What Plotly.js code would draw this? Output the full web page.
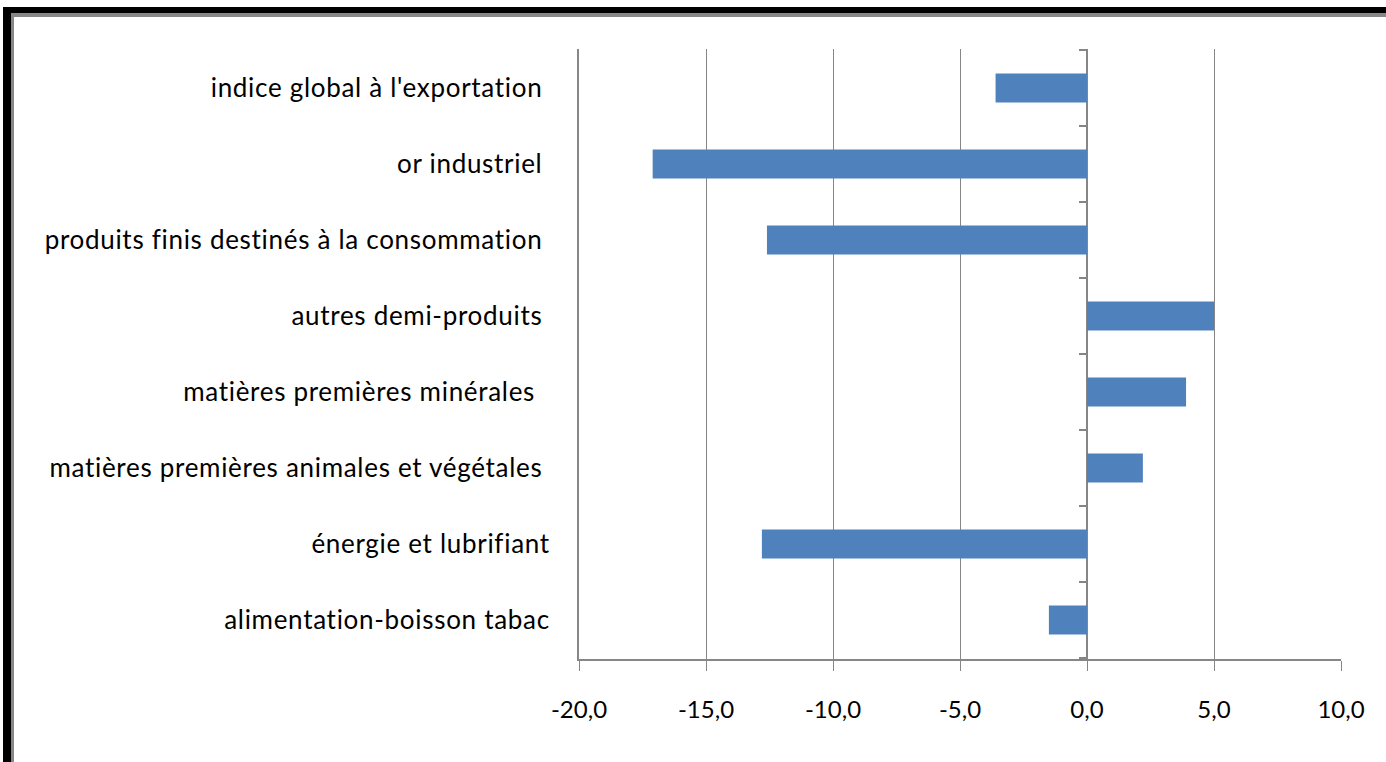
<!DOCTYPE html>
<html>
<head>
<meta charset="utf-8">
<script src="https://cdn.plot.ly/plotly-3.0.1.min.js"></script>
<style>
  html, body { margin: 0; padding: 0; background: #fff; }
  #wrap { position: relative; width: 1386px; height: 762px; overflow: hidden; }
  #chart { position: absolute; left: 0; top: 0; width: 1386px; height: 762px; }
  #frameBlack { position: absolute; left: 3px; top: 7px; right: -20px; bottom: -20px;
    border-left: 8px solid #000; border-top: 6px solid #000; pointer-events: none; }
  #frameGray { position: absolute; left: 11px; top: 13px; right: -20px; bottom: -20px;
    border-left: 3px solid #878787; border-top: 4px solid #878787; pointer-events: none; }
  #chart .ytick text { letter-spacing: 0.7px; }
</style>
</head>
<body>
<div id="wrap">
  <div id="chart"></div>
  <div id="frameBlack"></div>
  <div id="frameGray"></div>
</div>
<script>
// Categories, top to bottom as shown
var categories = [
  "indice global à l'exportation\u00a0",
  "or industriel\u00a0",
  "produits finis destinés à la consommation\u00a0",
  "autres demi-produits\u00a0",
  "matières premières minérales\u00a0\u00a0",
  "matières premières animales et végétales\u00a0",
  "énergie et lubrifiant",
  "alimentation-boisson tabac"
];
var values = [-3.6, -17.1, -12.6, 5.0, 3.9, 2.2, -12.8, -1.5];
var xTickValues = [-20, -15, -10, -5, 0, 5, 10];
var xTickLabels = ["-20,0", "-15,0", "-10,0", "-5,0", "0,0", "5,0", "10,0"];

var axisColor = "#868686";
var fontFamily = "Lato, 'Liberation Sans', sans-serif";

// category boundary ticks along the zero line
var shapes = [];
for (var i = 0; i <= categories.length; i++) {
  shapes.push({
    type: "line", xref: "x", yref: "y",
    xsizemode: "pixel", xanchor: 0, x0: -8, x1: 0,
    y0: i - 0.5, y1: i - 0.5,
    line: { color: axisColor, width: 2 }
  });
}

var trace = {
  type: "bar",
  orientation: "h",
  y: categories,
  x: values,
  marker: { color: "#4F81BD" },
  hoverinfo: "x+y"
};

var layout = {
  width: 1386, height: 762,
  margin: { l: 579, r: 45, t: 49, b: 103, pad: 0 },
  paper_bgcolor: "#fff", plot_bgcolor: "#fff",
  showlegend: false,
  bargap: 0.62,
  font: { family: fontFamily, size: 24, color: "#000" },
  xaxis: {
    range: [-20, 10],
    tickmode: "array",
    tickvals: xTickValues,
    ticktext: xTickLabels,
    showgrid: true, gridcolor: axisColor, gridwidth: 1,
    zeroline: true, zerolinecolor: axisColor, zerolinewidth: 2,
    showline: true, linecolor: axisColor, linewidth: 2,
    ticks: "outside", ticklen: 10, tickwidth: 1, tickcolor: axisColor,
    ticklabelstandoff: 18,
    tickfont: { family: fontFamily, size: 24, color: "#000" },
    fixedrange: true
  },
  yaxis: {
    type: "category",
    autorange: "reversed",
    showgrid: false,
    zeroline: false,
    showline: true, linecolor: axisColor, linewidth: 2,
    ticks: "",
    ticklabelstandoff: 22,
    tickfont: { family: fontFamily, size: 26, color: "#000" },
    fixedrange: true
  },
  shapes: shapes
};

Plotly.newPlot("chart", [trace], layout, { displayModeBar: false, staticPlot: true });
</script>
</body>
</html>
